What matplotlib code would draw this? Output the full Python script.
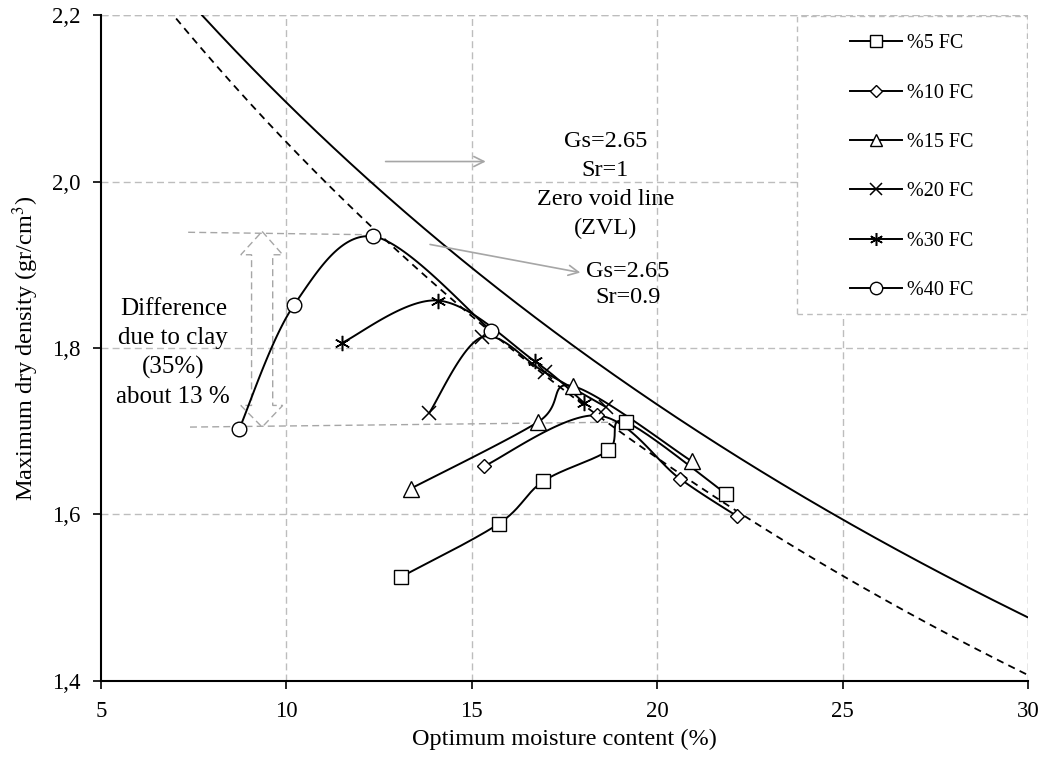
import numpy as np
import matplotlib
matplotlib.use("Agg")
import matplotlib.pyplot as plt
from matplotlib.lines import Line2D
from matplotlib.patches import Polygon, Rectangle

plt.rcParams['font.family'] = ['Liberation Serif', 'DejaVu Serif']
plt.rcParams['mathtext.fontset'] = 'stix'

# Compaction results: optimum moisture content (%) and maximum dry density (gr/cm3)
fc5_w = [13.09, 15.73, 16.93, 18.68, 19.15, 21.85]
fc5_d = [1.525, 1.589, 1.640, 1.677, 1.711, 1.625]

fc10_w = [15.33, 18.37, 20.61, 22.15]
fc10_d = [1.658, 1.719, 1.643, 1.598]

fc15_w = [13.35, 16.78, 17.74, 20.93]
fc15_d = [1.631, 1.711, 1.754, 1.664]

fc20_w = [13.85, 15.27, 16.96, 18.62]
fc20_d = [1.722, 1.813, 1.771, 1.729]

fc30_w = [11.49, 14.10, 16.70, 18.03]
fc30_d = [1.806, 1.857, 1.784, 1.734]

fc40_w = [8.73, 10.21, 12.34, 15.52]
fc40_d = [1.703, 1.852, 1.934, 1.821]

series_labels = ['%5 FC', '%10 FC', '%15 FC', '%20 FC', '%30 FC', '%40 FC']

# Saturation lines
GS = 2.65
SR_FULL = 1.0
SR_PART = 0.9

x_ticks = [5, 10, 15, 20, 25, 30]
y_ticks = [1.4, 1.6, 1.8, 2.0, 2.2]
y_tick_labels = ['1,4', '1,6', '1,8', '2,0', '2,2']

fig = plt.figure(figsize=(10.5, 7.58), dpi=100)
ax = fig.add_axes([0.0962, 0.1016, 0.8829, 0.8786])
ax.set_xlim(5, 30)
ax.set_ylim(1.4, 2.2)


def smooth(xs, ys, n=40):
    """Smoothed curve through the points (Bezier, tangent = neighbour chord / 6),
    computed in display space and returned in data space."""
    pts = ax.transData.transform(np.column_stack([xs, ys]))
    m = len(pts)
    out = [pts[0]]
    t = np.linspace(0, 1, n)[1:, None]
    for i in range(m - 1):
        p0 = pts[i]
        p3 = pts[i + 1]
        prev = pts[i - 1] if i > 0 else pts[i]
        nxt = pts[i + 2] if i + 2 < m else pts[i + 1]
        p1 = p0 + (p3 - prev) / 6.0
        p2 = p3 - (nxt - p0) / 6.0
        seg = ((1 - t) ** 3) * p0 + 3 * ((1 - t) ** 2) * t * p1 + 3 * (1 - t) * t ** 2 * p2 + t ** 3 * p3
        out.extend(seg)
    out = np.array(out)
    d = ax.transData.inverted().transform(out)
    return d[:, 0], d[:, 1]


# grid
grid_kw = dict(color='#bdbdbd', linestyle=(0, (5, 3)), linewidth=1.0, zorder=0)
for xv in x_ticks[1:]:
    ax.axvline(xv, **grid_kw)
for yv in y_ticks[1:]:
    ax.axhline(yv, **grid_kw)

# zero air void curves
w = np.linspace(5, 30, 400)
zvl_full = GS / (1 + (w / 100) * GS / SR_FULL)
zvl_part = GS / (1 + (w / 100) * GS / SR_PART)
ax.plot(w, zvl_full, color='black', linewidth=1.4, zorder=2)
ax.plot(w, zvl_part, color='black', linewidth=1.3, linestyle=(0, (4, 3)), zorder=2)

series = [
    (fc5_w, fc5_d, dict(marker='s', markersize=10)),
    (fc10_w, fc10_d, dict(marker='D', markersize=7.5)),
    (fc15_w, fc15_d, dict(marker='^', markersize=11)),
    (fc20_w, fc20_d, dict(marker='x', markersize=10, markeredgewidth=1.1)),
    (fc30_w, fc30_d, dict(marker=(6, 2, 0), markersize=11, markeredgewidth=1.1)),
    (fc40_w, fc40_d, dict(marker='o', markersize=10.5)),
]

handles = []
for (xs, ys, mk), lab in zip(series, series_labels):
    sx, sy = smooth(xs, ys)
    ax.plot(sx, sy, color='black', linewidth=1.4, zorder=3)
    ax.plot(xs, ys, linestyle='none', markerfacecolor='white', markeredgecolor='black',
            zorder=4, **mk)
    hk = dict(mk)
    hk['markersize'] = mk['markersize'] * 0.85
    handles.append(Line2D([0], [0], color='black', linewidth=1.4, markerfacecolor='white',
                          markeredgecolor='black', **hk))

# difference between the 40% and 5% peaks
gray = '#a6a6a6'
top_d = max(fc40_d)
low_d = max(fc5_d)
ax.plot([7.35, fc40_w[int(np.argmax(fc40_d))]], [top_d + 0.005, top_d + 0.002], color=gray,
        linestyle=(0, (5, 3)), linewidth=1.0, zorder=1)
ax.plot([7.4, fc5_w[int(np.argmax(fc5_d))]], [low_d - 0.006, low_d], color=gray,
        linestyle=(0, (5, 3)), linewidth=1.0, zorder=1)
xc = 9.345
arrow = Polygon([(xc, top_d + 0.006), (9.90, top_d - 0.022), (9.63, top_d - 0.022),
                 (9.63, low_d + 0.02), (9.90, low_d + 0.02), (xc, low_d - 0.006),
                 (8.77, low_d + 0.02), (9.06, low_d + 0.02), (9.06, top_d - 0.022),
                 (8.77, top_d - 0.022)], closed=True, fill=False,
                edgecolor=gray, linestyle=(0, (5, 3)), linewidth=1.0, zorder=1)
ax.add_patch(arrow)
ax.text(6.95, 1.794, 'Difference\ndue to clay\n(35%)\nabout 13 %', ha='center', va='center',
        fontsize=18, linespacing=1.4, zorder=5)

# saturation line labels
ax.annotate('', xy=(15.45, 2.024), xytext=(12.6, 2.024),
            arrowprops=dict(arrowstyle='->', color=gray, lw=1.2, mutation_scale=18))
ax.text(18.6, 1.996, 'Gs=2.65\nSr=1\nZero void line\n(ZVL)', ha='center', va='center',
        fontsize=17.5, linespacing=1.5)
ax.annotate('', xy=(18.0, 1.89), xytext=(13.8, 1.925),
            arrowprops=dict(arrowstyle='->', color=gray, lw=1.2, mutation_scale=18))
ax.text(19.2, 1.876, 'Gs=2.65\nSr=0.9', ha='center', va='center', fontsize=17.5,
        linespacing=1.3)

# axes
ax.set_xticks(x_ticks)
ax.set_yticks(y_ticks)
ax.set_yticklabels(y_tick_labels)
ax.tick_params(direction='out', length=5.5, width=1.2, labelsize=16.5, pad=9)
for side in ['top', 'right']:
    ax.spines[side].set_visible(False)
for side in ['left', 'bottom']:
    ax.spines[side].set_linewidth(1.5)
ax.axhline(2.2, **grid_kw)
ax.axvline(30, **grid_kw)
ax.set_xlabel('Optimum moisture content (%)', fontsize=17.5, labelpad=5)
ax.set_ylabel('Maximum dry density (gr/cm$^3$)', fontsize=17.5, labelpad=8)

# legend: dashed frame spanning the upper-right corner, entries inset
ax.add_patch(Rectangle((0.7508, 0.551), 0.2481, 0.4475, transform=ax.transAxes, fill=True,
                       facecolor='white', edgecolor='#bdbdbd', linestyle=(0, (4, 3)),
                       linewidth=1.0, zorder=5))
leg = ax.legend(handles, series_labels, loc='upper left', bbox_to_anchor=(0.808, 0.971),
                bbox_transform=ax.transAxes, frameon=False, fontsize=14.5, handlelength=2.6,
                labelspacing=1.5, borderpad=0, handletextpad=0.25, borderaxespad=0)
leg.set_zorder(6)

fig.savefig('out.png', dpi=100)
